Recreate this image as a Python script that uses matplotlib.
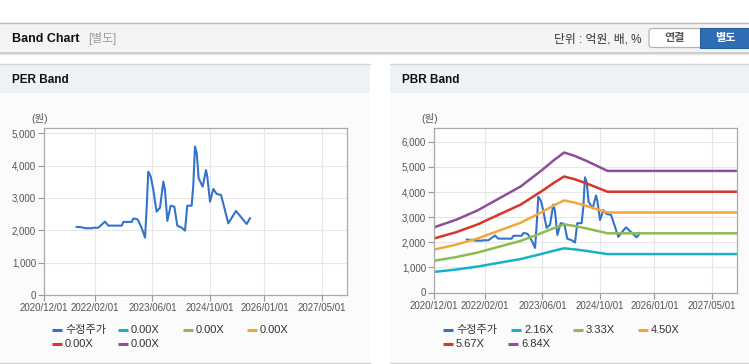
import matplotlib
matplotlib.use("Agg")
import matplotlib.pyplot as plt
from matplotlib.patches import Rectangle, FancyBboxPatch
from matplotlib.ticker import FuncFormatter
import numpy as np
import pandas as pd

plt.rcParams['font.family'] = ['Liberation Sans', 'Noto Sans CJK KR']

# 수정주가 (원)
price_dates = ['2021-08-31', '2021-10-13', '2021-11-09', '2022-01-05', '2022-01-18',
               '2022-03-02', '2022-04-27', '2022-05-25', '2022-09-15', '2022-09-29',
               '2022-12-09', '2022-12-22', '2023-01-20', '2023-02-02', '2023-03-03',
               '2023-03-31', '2023-04-14', '2023-04-27', '2023-05-18', '2023-06-09',
               '2023-06-23', '2023-07-07', '2023-08-04', '2023-09-01', '2023-09-15',
               '2023-10-05', '2023-11-02', '2023-12-03', '2023-12-28', '2024-02-03',
               '2024-03-02', '2024-03-21', '2024-04-27', '2024-05-11', '2024-05-25',
               '2024-06-09', '2024-06-25', '2024-07-29', '2024-08-26', '2024-09-06',
               '2024-09-29', '2024-10-27', '2024-11-24', '2024-12-31', '2025-03-02',
               '2025-05-06', '2025-08-04', '2025-09-01']
price_values = [2105, 2095, 2065, 2065, 2080,
                2080, 2270, 2145, 2145, 2260,
                2260, 2365, 2350, 2300, 2065,
                1775, 2730, 3815, 3660, 3250,
                2886, 2577, 2700, 3505, 3250,
                2290, 2762, 2731, 2143, 2082,
                1990, 2762, 2762, 3400, 4590,
                4383, 3610, 3350, 3866, 3660,
                2886, 3280, 3124, 3093, 2218,
                2598, 2196, 2372]

# BPS (원) - PBR 밴드 기준
bps_dates = ['2020-12-01', '2021-06-01', '2021-12-01', '2022-06-01', '2022-12-01',
             '2023-06-01', '2023-09-01', '2023-12-01', '2024-03-01', '2024-06-01',
             '2024-09-01', '2024-12-01', '2027-12-01']
bps_values = [380, 423, 478, 548, 618, 715, 768, 815, 795, 768, 738, 708, 708]

per_multiples = [0.00, 0.00, 0.00, 0.00, 0.00]
pbr_multiples = [2.16, 3.33, 4.50, 5.67, 6.84]

x_ticks = ['2020/12/01', '2022/02/01', '2023/06/01', '2024/10/01', '2026/01/01', '2027/05/01']
x_range = ['2020-12-01', '2027-12-01']
per_y_ticks = [0, 1000, 2000, 3000, 4000, 5000]
pbr_y_ticks = [0, 1000, 2000, 3000, 4000, 5000, 6000]

price_color = '#3573c9'
band_colors = ['#1ab1c8', '#8dbb50', '#f3a73b', '#d8352c', '#8f4e9c']

W, H = 749, 364
fig = plt.figure(figsize=(W / 100, H / 100), dpi=100)
fig.patch.set_facecolor('white')

# 배경 레이아웃 (픽셀 좌표)
bg = fig.add_axes([0, 0, 1, 1])
bg.set_xlim(0, W)
bg.set_ylim(H, 0)
bg.axis('off')

bg.add_patch(Rectangle((0, 22.5), W, 30, facecolor='#f4f4f4', edgecolor='none'))
bg.plot([0, W], [22.5, 22.5], color='#b9b9b9', lw=1)
bg.plot([0, W], [52.5, 52.5], color='#c4c4c4', lw=1.2)
bg.plot([0, W], [53.8, 53.8], color='#e6e6e6', lw=1)
bg.text(12, 38.5, 'Band Chart', fontsize=9, fontweight='bold', color='#111', va='center')
bg.text(88, 38.5, '[별도]', fontsize=8.5, color='#999', va='center')
bg.text(642, 39, '단위 : 억원, 배, %', fontsize=8.5, color='#333', va='center', ha='right')
bg.add_patch(FancyBboxPatch((649, 28.5), 58, 19, boxstyle='round,pad=0,rounding_size=3',
                            facecolor='white', edgecolor='#b5b5b5', lw=0.9))
bg.text(675, 38.5, '연결', fontsize=8, fontweight='bold', color='#555', va='center', ha='center')
bg.add_patch(Rectangle((700, 28), 49, 20, facecolor='#2f6eb6', edgecolor='#285f9e', lw=0.8))
bg.text(725, 38.5, '별도', fontsize=8, fontweight='bold', color='white', va='center', ha='center')

panels = [(0, 370, 'PER Band'), (390, W, 'PBR Band')]
for x0, x1, title in panels:
    bg.add_patch(Rectangle((x0, 64), x1 - x0, 29, facecolor='#eef1f6', edgecolor='none'))
    bg.add_patch(Rectangle((x0, 93), x1 - x0, 270, facecolor='#fbfbfb', edgecolor='none'))
    bg.plot([x0, x1], [64, 64], color='#d6d6d6', lw=1)
    bg.plot([x0, x1], [363, 363], color='#d6d6d6', lw=1)
    bg.text(x0 + 12, 80, title, fontsize=8.5, fontweight='bold', color='#111', va='center')


def px_axes(x0, y0, x1, y1):
    return fig.add_axes([x0 / W, 1 - y1 / H, (x1 - x0) / W, (y1 - y0) / H])


def style_axes(ax, yticks, ymax):
    ax.set_facecolor('white')
    ax.set_xlim(pd.to_datetime(x_range))
    ax.set_ylim(0, ymax)
    ax.set_yticks(yticks)
    ax.yaxis.set_major_formatter(FuncFormatter(lambda v, _: f'{int(v):,}'))
    ax.set_xticks(pd.to_datetime(x_ticks, format='%Y/%m/%d'))
    ax.set_xticklabels(x_ticks)
    ax.grid(color='#e6e6e6', lw=0.8)
    ax.set_axisbelow(True)
    for s in ax.spines.values():
        s.set_color('#aaaaaa')
        s.set_linewidth(0.9)
    ax.tick_params(labelsize=7, labelcolor='#555', color='#999', length=4, width=0.8, pad=2)


ax1 = px_axes(44.3, 128.3, 347.3, 295)
style_axes(ax1, per_y_ticks, 5155)
ax1.plot(pd.to_datetime(price_dates), price_values, color=price_color, lw=1.5)

ax2 = px_axes(434.3, 128.3, 737.3, 292.5)
style_axes(ax2, pbr_y_ticks, 6540)
ax2.plot(pd.to_datetime(price_dates), price_values, color=price_color, lw=1.5)
bps = np.array(bps_values)
for m, c in zip(pbr_multiples, band_colors):
    ax2.plot(pd.to_datetime(bps_dates), bps * m, color=c, lw=1.8)

bg.text(39.5, 118, '(원)', fontsize=7.5, color='#555', ha='center', va='center')
bg.text(430, 118, '(원)', fontsize=7.5, color='#555', ha='center', va='center')

# 범례
legend_sets = [
    (['수정주가'] + [f'{m:.2f}X' for m in per_multiples],
     [(52, 330), (118, 330), (183, 330), (247, 330), (52, 344), (118, 344)]),
    (['수정주가'] + [f'{m:.2f}X' for m in pbr_multiples],
     [(443, 330), (511, 330), (573, 330), (638, 330), (443, 344), (508, 344)]),
]
for labels, spots in legend_sets:
    for lab, col, (lx, ly) in zip(labels, [price_color] + band_colors, spots):
        bg.plot([lx, lx + 10], [ly, ly], color=col, lw=2.2, solid_capstyle='butt')
        bg.text(lx + 13, ly, lab, fontsize=8, color='#333', va='center')

fig.savefig('out.png', dpi=100)
